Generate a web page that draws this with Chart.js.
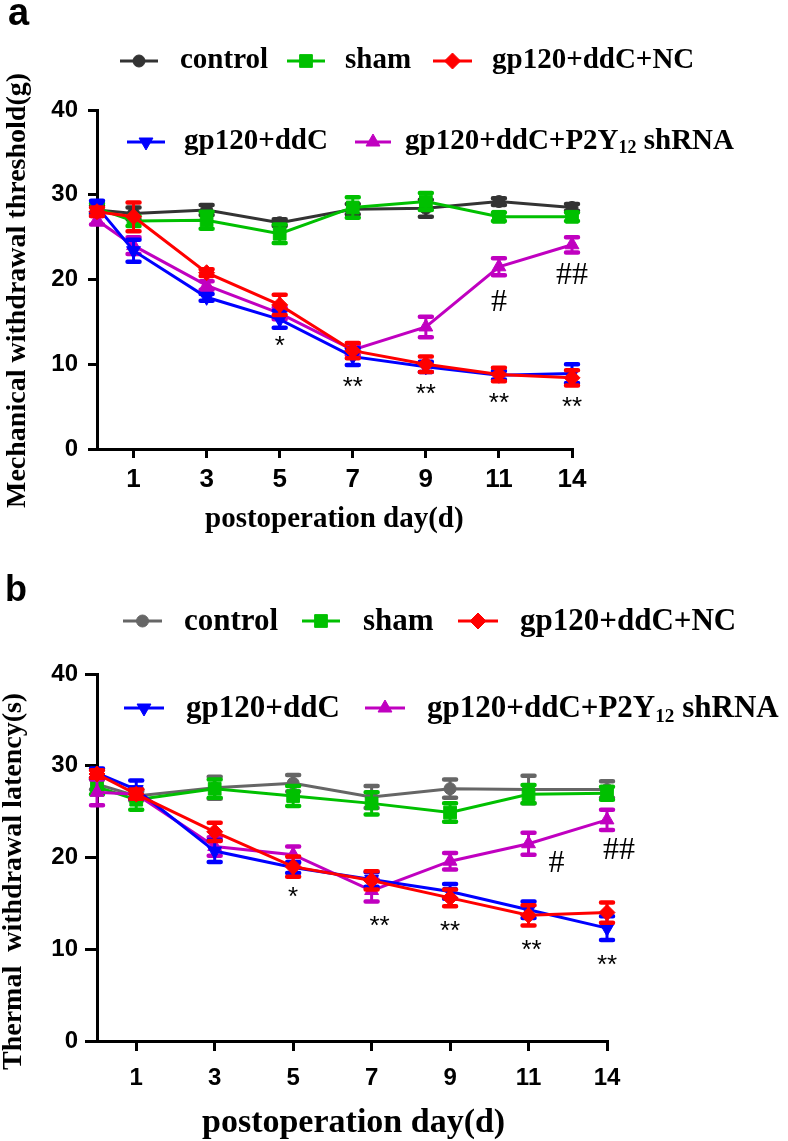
<!DOCTYPE html>
<html>
<head>
<meta charset="utf-8">
<script src="https://cdn.jsdelivr.net/npm/chart.js@4.4.1/dist/chart.umd.min.js"></script>
<style>
    body { margin: 0; background: #fff; width: 788px; height: 1141px; position: relative; overflow: hidden; }
    canvas.plot { position: absolute; left: 0; }
    .lbl { position: absolute; white-space: pre; line-height: 1; color: #000; }
    .serif { font-family: "Liberation Serif", "Times New Roman", serif; font-weight: bold; }
    .sans { font-family: "Liberation Sans", Arial, sans-serif; font-weight: bold; }
    .lbl sub { font-size: 62%; vertical-align: -0.25em; line-height: 0; }
</style>
</head>
<body>
<canvas id="chartA" class="plot" width="788" height="560" style="top:0px"></canvas>
<canvas id="chartB" class="plot" width="788" height="581" style="top:560px"></canvas>
<script>
// observation days (day 14 sits one slot after day 11 on the axis)
const days = [0, 1, 3, 5, 7, 9, 11, 14];
const tickDays = [1, 3, 5, 7, 9, 11, 14];
const seriesNames = ['control', 'sham', 'gp120+ddC+NC', 'gp120+ddC', 'gp120+ddC+P2Y<sub>12</sub> shRNA'];

// a: mechanical withdrawal threshold (g), mean and error
const mechControl = [28.2, 27.8, 28.2, 26.7, 28.3, 28.4, 29.2, 28.5];
const mechControlErr = [0.5, 0.7, 0.6, 0.4, 0.6, 1.0, 0.4, 0.4];
const mechSham = [28.4, 26.9, 27.0, 25.4, 28.5, 29.2, 27.4, 27.4];
const mechShamErr = [0.6, 0.6, 1.0, 1.1, 1.2, 1.0, 0.5, 0.5];
const mechNC = [28.0, 27.4, 20.8, 17.0, 11.6, 10.0, 8.8, 8.4];
const mechNCErr = [0.5, 1.7, 0.4, 1.2, 0.9, 0.9, 0.8, 0.9];
const mechDdc = [28.6, 23.4, 17.9, 15.3, 10.9, 9.7, 8.7, 8.9];
const mechDdcErr = [0.7, 1.3, 0.4, 1.0, 1.0, 0.6, 0.5, 1.1];
const mechShrna = [27.0, 24.0, 19.3, 16.0, 11.7, 14.4, 21.5, 24.1];
const mechShrnaErr = [0.5, 1.0, 0.5, 0.7, 0.6, 1.2, 1.0, 0.9];

// b: thermal withdrawal latency (s), mean and error
const thermControl = [28.0, 26.7, 27.6, 28.1, 26.6, 27.5, 27.4, 27.4];
const thermControlErr = [0.6, 0.5, 1.2, 0.9, 1.2, 1.0, 1.5, 0.9];
const thermSham = [27.7, 26.3, 27.5, 26.7, 25.9, 24.9, 26.9, 27.0];
const thermShamErr = [0.8, 1.1, 1.0, 1.1, 1.2, 1.0, 1.0, 0.7];
const thermNC = [29.1, 26.9, 22.8, 19.0, 17.5, 15.6, 13.7, 14.0];
const thermNCErr = [0.4, 0.5, 1.0, 1.1, 1.0, 0.9, 1.1, 1.1];
const thermDdc = [29.2, 27.4, 20.7, 18.9, 17.6, 16.3, 14.3, 12.3];
const thermDdcErr = [0.5, 1.0, 1.2, 0.6, 0.8, 0.8, 0.9, 1.3];
const thermShrna = [27.1, 26.9, 21.2, 20.3, 16.4, 19.6, 21.5, 24.1];
const thermShrnaErr = [1.4, 0.5, 1.0, 0.9, 1.2, 0.9, 1.2, 1.1];

// significance marks per day (same in both panels)
const starMarks = ['', '', '', '*', '**', '**', '**', '**'];
const hashMarks = ['', '', '', '', '', '', '#', '##'];

const yTicks = [0, 10, 20, 30, 40];

// marker look of each series
const seriesStyles = [
    { color: '#333333', pointStyle: 'circle', radius: 6, rotation: 0 },
    { color: '#00C000', pointStyle: 'rect', radius: 9, rotation: 0 },
    { color: '#FF0000', pointStyle: 'rectRot', radius: 8, rotation: 0 },
    { color: '#0000FF', pointStyle: 'triangle', radius: 8, rotation: 180 },
    { color: '#C000C0', pointStyle: 'triangle', radius: 8, rotation: 0 }
];
const drawOrder = [4, 3, 0, 1, 2]; // lower = drawn on top (NC on top)

const slot = d => (d === 14 ? 13 : d); // axis break between 11 and 14

// error bars drawn right before each dataset
const errorBarPlugin = {
    id: 'errorBars',
    beforeDatasetDraw(chart, args) {
        const ds = chart.data.datasets[args.index];
        const y = chart.scales.y;
        const ctx = chart.ctx;
        ctx.save();
        ctx.strokeStyle = ds.borderColor;
        args.meta.data.forEach((pt, k) => {
            const v = ds.data[k].y, e = ds.errors[k];
            const top = y.getPixelForValue(v + e), bot = y.getPixelForValue(v - e);
            ctx.lineWidth = 3;
            ctx.lineCap = 'butt';
            ctx.beginPath(); ctx.moveTo(pt.x, top); ctx.lineTo(pt.x, bot); ctx.stroke();
            ctx.lineWidth = 4.5;
            ctx.lineCap = 'round';
            ctx.beginPath();
            ctx.moveTo(pt.x - 6, top); ctx.lineTo(pt.x + 6, top);
            ctx.moveTo(pt.x - 6, bot); ctx.lineTo(pt.x + 6, bot);
            ctx.stroke();
        });
        ctx.restore();
    }
};

// * and # marks under the points
const sigMarkPlugin = {
    id: 'sigMarks',
    afterDatasetsDraw(chart, args, opts) {
        const ctx = chart.ctx, xs = chart.scales.x, ys = chart.scales.y;
        const sets = chart.data.datasets;
        ctx.save();
        ctx.fillStyle = '#000';
        ctx.textAlign = 'center';
        ctx.textBaseline = 'alphabetic';
        days.forEach((d, k) => {
            const px = xs.getPixelForValue(slot(d));
            if (starMarks[k]) {
                const low = Math.min(...sets.map(s => s.data[k].y - s.errors[k]));
                const gap = starMarks[k].length === 1 ? opts.starGap - 4 : opts.starGap;
                ctx.font = '26px "Liberation Sans", Arial, sans-serif';
                ctx.fillText(starMarks[k], px + (opts.starDx[k] || 0), ys.getPixelForValue(low) + gap + 0.72 * 26);
            }
            if (hashMarks[k]) {
                const s = sets[4];
                const low = s.data[k].y - s.errors[k];
                ctx.font = '32px "Liberation Serif", "Times New Roman", serif';
                ctx.fillText(hashMarks[k], px + (opts.hashDx[k] || 0), ys.getPixelForValue(low) + opts.hashDy[k] + 0.34 * 32);
            }
        });
        ctx.restore();
    }
};

function buildPanel(p) {
    const datasets = p.values.map((vals, i) => {
        const st = seriesStyles[i];
        const color = (i === 0 && p.controlColor) ? p.controlColor : st.color;
        return {
            label: seriesNames[i],
            data: vals.map((v, k) => ({ x: slot(days[k]), y: v })),
            errors: p.errors[i],
            borderColor: color,
            backgroundColor: color,
            pointBackgroundColor: color,
            pointBorderColor: color,
            pointBorderWidth: 1,
            pointStyle: st.pointStyle,
            pointRadius: st.radius,
            pointRotation: st.rotation,
            borderWidth: 3,
            tension: 0,
            clip: false,
            order: drawOrder[i]
        };
    });

    const ctx = document.getElementById(p.canvasId).getContext('2d');
    new Chart(ctx, {
        type: 'line',
        data: { datasets: datasets },
        options: {
            responsive: false,
            animation: false,
            devicePixelRatio: 1,
            layout: { padding: { left: 0, right: p.padRight, top: p.padTop, bottom: p.padBottom } },
            plugins: {
                legend: { display: false },
                tooltip: { enabled: false },
                sigMarks: { starGap: p.starGap, starDx: p.starDx, hashDx: p.hashDx, hashDy: p.hashDy }
            },
            scales: {
                x: {
                    type: 'linear',
                    min: 0,
                    max: 13,
                    afterBuildTicks: scale => { scale.ticks = tickDays.map(d => ({ value: slot(d) })); },
                    afterFit: scale => { scale.height = 60; },
                    grid: { display: true, drawOnChartArea: false, drawTicks: true, tickLength: p.xTickLen, color: '#000', lineWidth: 3 },
                    border: { display: true, color: '#000', width: 3 },
                    ticks: {
                        autoSkip: false,
                        maxRotation: 0,
                        padding: p.xTickPad,
                        color: '#000',
                        font: { family: '"Liberation Sans", Arial, sans-serif', size: p.xTickSize, weight: 'bold' },
                        callback: v => tickDays[tickDays.map(slot).indexOf(v)]
                    }
                },
                y: {
                    min: 0,
                    max: 40,
                    afterBuildTicks: scale => { scale.ticks = yTicks.map(v => ({ value: v })); },
                    afterFit: scale => { scale.width = 97; },
                    grid: { display: true, drawOnChartArea: false, drawTicks: true, tickLength: p.yTickLen, color: '#000', lineWidth: 3 },
                    border: { display: true, color: '#000', width: 3 },
                    ticks: {
                        padding: p.yTickPad,
                        color: '#000',
                        font: { family: '"Liberation Sans", Arial, sans-serif', size: 24, weight: 'bold' }
                    }
                }
            }
        },
        plugins: [errorBarPlugin, sigMarkPlugin]
    });
}

// plain text placed on top of the canvases
function addText(html, cls, left, top, size, rotate) {
    const el = document.createElement('div');
    el.className = 'lbl ' + cls;
    el.innerHTML = html;
    el.style.left = left + 'px';
    el.style.top = top + 'px';
    el.style.fontSize = size + 'px';
    if (rotate) {
        el.style.transformOrigin = '0 0';
        el.style.transform = 'rotate(-90deg)';
    }
    document.body.appendChild(el);
}

// legend key: short line with the series marker
function addLegendKey(i, color, left, cy, width) {
    const st = seriesStyles[i];
    const c = document.createElement('canvas');
    c.width = width; c.height = 24;
    c.style.position = 'absolute';
    c.style.left = left + 'px';
    c.style.top = (cy - 12) + 'px';
    const g = c.getContext('2d');
    g.strokeStyle = color; g.lineWidth = 3;
    g.beginPath(); g.moveTo(0, 12); g.lineTo(width, 12); g.stroke();
    g.fillStyle = color; g.lineWidth = 1;
    Chart.helpers.drawPoint(g, { pointStyle: st.pointStyle, radius: st.radius, rotation: st.rotation, borderWidth: 1 }, width / 2, 12);
    document.body.appendChild(c);
}

function addLegend(keys, size, controlColor) {
    keys.forEach((k, i) => {
        const color = (i === 0 && controlColor) ? controlColor : seriesStyles[i].color;
        addLegendKey(i, color, k.x, k.y, k.w);
        addText(seriesNames[i], 'serif', k.tx, k.base - 0.8375 * size, size);
    });
}

buildPanel({
    canvasId: 'chartA',
    values: [mechControl, mechSham, mechNC, mechDdc, mechShrna],
    errors: [mechControlErr, mechShamErr, mechNCErr, mechDdcErr, mechShrnaErr],
    controlColor: '#333333',
    padTop: 110, padRight: 216, padBottom: 51,
    xTickLen: 9, xTickPad: 6, xTickSize: 26, yTickLen: 9, yTickPad: 10,
    starGap: 11, starDx: {},
    hashDx: { 6: 0, 7: 0 }, hashDy: { 6: 25, 7: 21 }
});

buildPanel({
    canvasId: 'chartB',
    values: [thermControl, thermSham, thermNC, thermDdc, thermShrna],
    errors: [thermControlErr, thermShamErr, thermNCErr, thermDdcErr, thermShrnaErr],
    controlColor: '#666666',
    padTop: 114, padRight: 181, padBottom: 40,
    xTickLen: 10, xTickPad: 13, xTickSize: 24, yTickLen: 12, yTickPad: 7,
    starGap: 14, starDx: { 4: 8, 6: 3 },
    hashDx: { 6: 28, 7: 12 }, hashDy: { 6: 6, 7: 18 }
});

// panel a texts
addText('a', 'sans', 8, -7, 38);
addLegend([
    { x: 120, y: 61, w: 38, tx: 180, base: 68.5 },
    { x: 287, y: 61, w: 38, tx: 345, base: 68.5 },
    { x: 433, y: 61, w: 39, tx: 492, base: 68.5 },
    { x: 127, y: 142, w: 38, tx: 184, base: 149 },
    { x: 355, y: 142, w: 36, tx: 405, base: 149 }
], 29, '#333333');
addText('Mechanical withdrawal threshold(g)', 'serif', 1.5, 508, 28, true);
addText('postoperation day(d)', 'serif', 205, 527 - 0.8375 * 29, 29);

// panel b texts
addText('b', 'sans', 5, 571, 36);
addLegend([
    { x: 123, y: 621, w: 39, tx: 184, base: 630 },
    { x: 302, y: 621, w: 38, tx: 363, base: 630 },
    { x: 458, y: 621, w: 40, tx: 520, base: 630 },
    { x: 124, y: 708, w: 40, tx: 186, base: 717 },
    { x: 365, y: 708, w: 40, tx: 427, base: 717 }
], 31, '#666666');
addText('Thermal  withdrawal latency(s)', 'serif', -1.8, 1070, 28, true);
addText('postoperation day(d)', 'serif', 202, 1132 - 0.8375 * 34, 34);
</script>
</body>
</html>
